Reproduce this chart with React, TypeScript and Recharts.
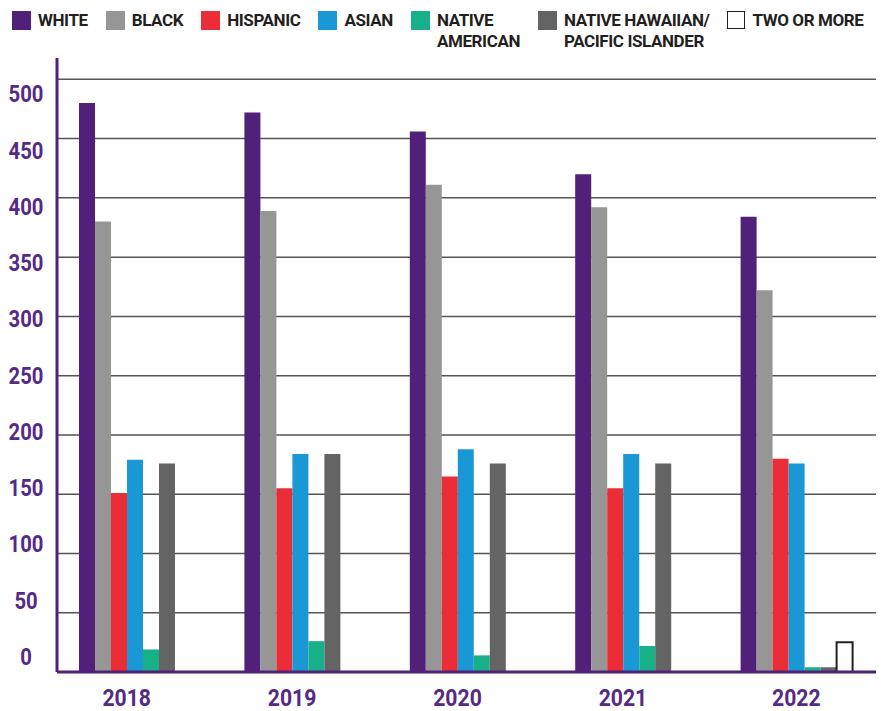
import { Bar, BarChart, CartesianGrid, Legend, XAxis, YAxis } from 'recharts';

const years = ['2018', '2019', '2020', '2021', '2022'];
const white = [480, 472, 456, 420, 384];
const black = [380, 389, 411, 392, 322];
const hispanic = [151, 155, 165, 155, 180];
const asian = [179, 184, 188, 184, 176];
const nativeAmerican = [19, 26, 14, 22, 4];
const pacificIslander = [176, 184, 176, 176, 4];
const twoOrMore = [null, null, null, null, 25];
const yTicks = [0, 50, 100, 150, 200, 250, 300, 350, 400, 450, 500];

const PURPLE = '#51217a';
const TEXT_PURPLE = '#542a85';
const FONT = 'Roboto, sans-serif';
const BAR = 16;

const series = [
  { key: 'white', label: 'WHITE', color: PURPLE, values: white },
  { key: 'black', label: 'BLACK', color: '#969696', values: black },
  { key: 'hispanic', label: 'HISPANIC', color: '#ea2d36', values: hispanic },
  { key: 'asian', label: 'ASIAN', color: '#1a98d5', values: asian },
  { key: 'nativeAmerican', label: 'NATIVE\nAMERICAN', color: '#17b088', values: nativeAmerican },
  { key: 'pacificIslander', label: 'NATIVE HAWAIIAN/\nPACIFIC ISLANDER', color: '#646464', values: pacificIslander },
  { key: 'twoOrMore', label: 'TWO OR MORE', color: '#ffffff', values: twoOrMore }
];

const data = years.map((year, i) => {
  const row: Record<string, string | number | null> = { year };
  series.forEach((s) => {
    row[s.key] = s.values[i];
  });
  return row;
});

function LegendContent() {
  return (
    <div
      style={{
        display: 'flex',
        alignItems: 'flex-start',
        paddingLeft: 12,
        paddingTop: 10,
        fontFamily: FONT,
        fontWeight: 700,
        fontSize: 17,
        letterSpacing: -0.4,
        lineHeight: '21px',
        color: '#231f20',
        whiteSpace: 'nowrap'
      }}
    >
      {series.map((s) => (
        <div key={s.key} style={{ display: 'flex', alignItems: 'flex-start', marginRight: 18, flexShrink: 0 }}>
          <div
            style={{
              width: s.key === 'twoOrMore' ? 16 : 19,
              height: s.key === 'twoOrMore' ? 16 : 19,
              marginTop: 1,
              marginRight: 7,
              background: s.color,
              border: s.key === 'twoOrMore' ? '1.5px solid #231f20' : 'none'
            }}
          />
          <div style={{ whiteSpace: 'pre' }}>{s.label}</div>
        </div>
      ))}
    </div>
  );
}

function YTick(props: any) {
  const { x, y, payload } = props;
  const v = payload.value as number;
  const shift = 15 - (3 * (500 - v)) / 50;
  return (
    <text
      transform={`translate(${x - 31},${y + shift + 8}) scale(0.88,1)`}
      textAnchor="middle"
      fill={TEXT_PURPLE}
      fontFamily={FONT}
      fontWeight={700}
      fontSize={23}
    >
      {v}
    </text>
  );
}

function XTick(props: any) {
  const { x, y, payload } = props;
  const row = data.find((d) => d.year === payload.value);
  const shown = row ? series.filter((s) => row[s.key] != null).length : series.length;
  const shift = -((series.length - shown) * BAR) / 2;
  return (
    <text
      transform={`translate(${x + shift},${y + 34}) scale(0.9,1)`}
      textAnchor="middle"
      fill={TEXT_PURPLE}
      fontFamily={FONT}
      fontWeight={700}
      fontSize={23.5}
    >
      {payload.value}
    </text>
  );
}

export default function App() {
  return (
    <div style={{ position: 'absolute', left: 0, top: 0, background: '#fff' }}>
      <BarChart
        width={896}
        height={711}
        data={data}
        margin={{ top: 58, right: 20, bottom: 9, left: 0 }}
        barGap={0}
        barSize={BAR}
      >
        <CartesianGrid vertical={false} stroke="#555" strokeWidth={1.5} syncWithTicks />
        <XAxis
          dataKey="year"
          height={30}
          tickLine={false}
          tickSize={0}
          tickMargin={0}
          axisLine={{ stroke: PURPLE, strokeWidth: 3 }}
          padding={{ left: -5, right: -3 }}
          tick={<XTick />}
          interval={0}
        />
        <YAxis
          width={57}
          domain={[0, 518]}
          ticks={yTicks}
          tickLine={false}
          tickSize={0}
          tickMargin={0}
          axisLine={{ stroke: PURPLE, strokeWidth: 3 }}
          tick={<YTick />}
          interval={0}
        />
        <Legend
          layout="horizontal"
          verticalAlign="middle"
          align="center"
          wrapperStyle={{ top: 0, left: 0, width: 896 }}
          content={<LegendContent />}
        />
        {series.map((s) => (
          <Bar
            key={s.key}
            dataKey={s.key}
            name={s.label}
            fill={s.color}
            stroke={s.key === 'twoOrMore' ? '#231f20' : 'none'}
            strokeWidth={s.key === 'twoOrMore' ? 2 : 0}
            isAnimationActive={false}
          />
        ))}
      </BarChart>
    </div>
  );
}
